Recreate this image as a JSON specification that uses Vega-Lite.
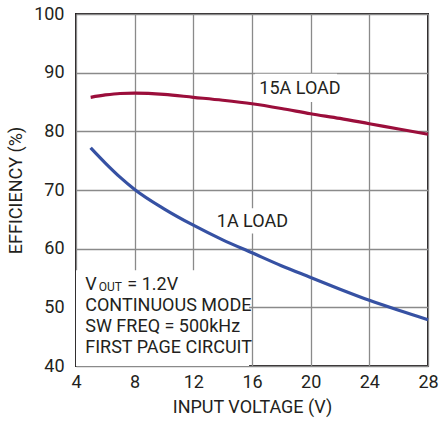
{
  "$schema": "https://vega.github.io/schema/vega-lite/v6.json",
  "autosize": {"type": "none"},
  "width": 352,
  "height": 352,
  "padding": {"left": 76, "top": 14, "right": 11, "bottom": 58},
  "background": "white",
  "config": {
    "font": "Roboto",
    "view": {"stroke": "#231f20", "strokeWidth": 2},
    "axis": {
      "labelFont": "Roboto",
      "labelFontSize": 18,
      "labelColor": "#231f20",
      "titleFont": "Roboto",
      "titleFontSize": 18,
      "titleFontWeight": "normal",
      "titleColor": "#231f20",
      "gridColor": "#8a8a8a",
      "gridWidth": 1.3,
      "gridOpacity": 1,
      "domain": false,
      "ticks": false
    }
  },
  "datasets": {
    "curves": [
      {"series": "15A LOAD", "x": 5, "y": 85.8},
      {"series": "15A LOAD", "x": 6, "y": 86.2},
      {"series": "15A LOAD", "x": 7, "y": 86.45},
      {"series": "15A LOAD", "x": 8, "y": 86.5},
      {"series": "15A LOAD", "x": 10, "y": 86.3},
      {"series": "15A LOAD", "x": 12, "y": 85.8},
      {"series": "15A LOAD", "x": 14, "y": 85.3},
      {"series": "15A LOAD", "x": 16, "y": 84.7},
      {"series": "15A LOAD", "x": 18, "y": 83.9},
      {"series": "15A LOAD", "x": 20, "y": 83.0},
      {"series": "15A LOAD", "x": 22, "y": 82.2},
      {"series": "15A LOAD", "x": 24, "y": 81.3},
      {"series": "15A LOAD", "x": 26, "y": 80.4},
      {"series": "15A LOAD", "x": 28, "y": 79.5},
      {"series": "1A LOAD", "x": 5, "y": 77.2},
      {"series": "1A LOAD", "x": 6, "y": 74.6},
      {"series": "1A LOAD", "x": 7, "y": 72.2},
      {"series": "1A LOAD", "x": 8, "y": 70.1},
      {"series": "1A LOAD", "x": 10, "y": 66.8},
      {"series": "1A LOAD", "x": 12, "y": 64.0},
      {"series": "1A LOAD", "x": 14, "y": 61.5},
      {"series": "1A LOAD", "x": 16, "y": 59.3},
      {"series": "1A LOAD", "x": 18, "y": 57.1},
      {"series": "1A LOAD", "x": 20, "y": 55.1},
      {"series": "1A LOAD", "x": 22, "y": 53.1},
      {"series": "1A LOAD", "x": 24, "y": 51.2},
      {"series": "1A LOAD", "x": 26, "y": 49.5},
      {"series": "1A LOAD", "x": 28, "y": 47.9}
    ],
    "boxes": [
      {"x": 4, "x2": 15.8, "y": 40, "y2": 56.3},
      {"x": 16.2, "x2": 21.8, "y": 85.0, "y2": 89.8},
      {"x": 13.4, "x2": 18.3, "y": 62.6, "y2": 66.9}
    ],
    "labels": [
      {"text": "15A LOAD", "x": 16.5, "y": 87.2},
      {"text": "1A LOAD", "x": 13.6, "y": 64.6},
      {"text": "V", "x": 4.63, "y": 53.8},
      {"text": "= 1.2V", "x": 7.5, "y": 53.8},
      {"text": "CONTINUOUS MODE", "x": 4.63, "y": 50.2},
      {"text": "SW FREQ = 500kHz", "x": 4.63, "y": 46.6},
      {"text": "FIRST PAGE CIRCUIT", "x": 4.63, "y": 43.0}
    ],
    "subscripts": [
      {"text": "OUT", "x": 5.55, "y": 53.4}
    ]
  },
  "encoding": {
    "x": {
      "field": "x",
      "type": "quantitative",
      "scale": {"domain": [4, 28], "nice": false, "zero": false},
      "axis": {
        "title": "INPUT VOLTAGE (V)",
        "values": [4, 8, 12, 16, 20, 24, 28],
        "labelPadding": 7,
        "titlePadding": 7,
        "labelFlush": false
      }
    },
    "y": {
      "field": "y",
      "type": "quantitative",
      "scale": {"domain": [40, 100], "nice": false, "zero": false},
      "axis": {
        "title": "EFFICIENCY (%)",
        "values": [40, 50, 60, 70, 80, 90, 100],
        "labelPadding": 12,
        "titlePadding": 8,
        "labelFlush": false
      }
    }
  },
  "layer": [
    {
      "data": {"name": "boxes"},
      "mark": {"type": "rect", "fill": "white"},
      "encoding": {
        "x2": {"field": "x2"},
        "y2": {"field": "y2"}
      }
    },
    {
      "data": {"name": "curves"},
      "mark": {"type": "line", "strokeWidth": 3.2, "interpolate": "monotone"},
      "encoding": {
        "color": {
          "field": "series",
          "type": "nominal",
          "scale": {"domain": ["15A LOAD", "1A LOAD"], "range": ["#9b0e3b", "#3651a3"]},
          "legend": null
        }
      }
    },
    {
      "data": {"name": "labels"},
      "mark": {"type": "text", "align": "left", "baseline": "middle", "fontSize": 18, "font": "Roboto", "color": "#231f20"},
      "encoding": {"text": {"field": "text"}}
    },
    {
      "data": {"name": "subscripts"},
      "mark": {"type": "text", "align": "left", "baseline": "middle", "fontSize": 12, "font": "Roboto", "color": "#231f20"},
      "encoding": {"text": {"field": "text"}}
    }
  ]
}
